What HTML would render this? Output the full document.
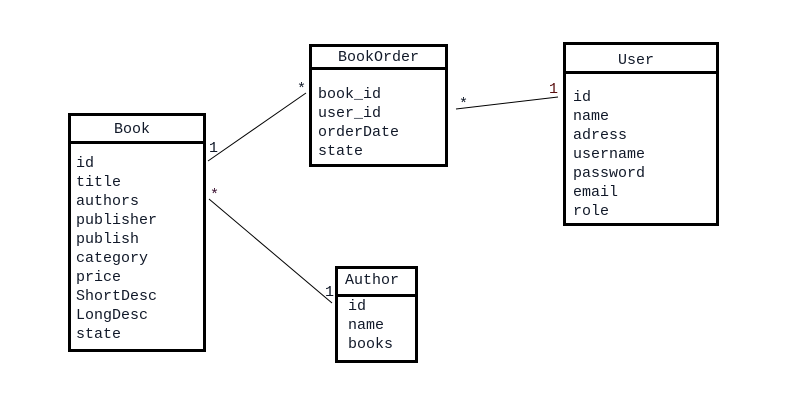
<!DOCTYPE html>
<html><head><style>
html,body{margin:0;padding:0;background:#fff;}
svg text{font-family:"Liberation Mono",monospace;font-size:15px;fill:#101828;}
</style></head><body>
<svg width="799" height="412" xmlns="http://www.w3.org/2000/svg">
<rect width="799" height="412" fill="#fff"/>
<g fill="none" stroke="#000" stroke-width="3">
<rect x="69.5" y="114.5" width="135" height="236"/>
<line x1="69" y1="142.5" x2="205" y2="142.5"/>
<rect x="310.5" y="45.5" width="136" height="120"/>
<line x1="310" y1="68.5" x2="447" y2="68.5"/>
<rect x="564.5" y="43.5" width="153" height="181"/>
<line x1="564" y1="72.5" x2="718" y2="72.5"/>
<rect x="336.5" y="267.5" width="80" height="94"/>
<line x1="336" y1="295.5" x2="417" y2="295.5"/>
</g>
<g stroke="#000" stroke-width="1">
<line x1="208" y1="161" x2="306" y2="93"/>
<line x1="456" y1="109" x2="558" y2="97"/>
<line x1="209" y1="199" x2="332" y2="303"/>
</g>
<text x="114" y="133">Book</text>
<text x="76" y="167">id</text>
<text x="76" y="186">title</text>
<text x="76" y="205">authors</text>
<text x="76" y="224">publisher</text>
<text x="76" y="243">publish</text>
<text x="76" y="262">category</text>
<text x="76" y="281">price</text>
<text x="76" y="300">ShortDesc</text>
<text x="76" y="319">LongDesc</text>
<text x="76" y="338">state</text>
<text x="338" y="61">BookOrder</text>
<text x="318" y="98">book_id</text>
<text x="318" y="117">user_id</text>
<text x="318" y="136">orderDate</text>
<text x="318" y="155">state</text>
<text x="618" y="64">User</text>
<text x="573" y="101">id</text>
<text x="573" y="120">name</text>
<text x="573" y="139">adress</text>
<text x="573" y="158">username</text>
<text x="573" y="177">password</text>
<text x="573" y="196">email</text>
<text x="573" y="215">role</text>
<text x="345" y="284">Author</text>
<text x="348" y="310">id</text>
<text x="348" y="329">name</text>
<text x="348" y="348">books</text>
<text x="209" y="152">1</text>
<text x="297" y="93">*</text>
<text x="459" y="108">*</text>
<text x="549" y="93" style="fill:#5a1010">1</text>
<text x="210" y="199" style="fill:#3a1030">*</text>
<text x="325" y="296">1</text>
</svg>
</body></html>
